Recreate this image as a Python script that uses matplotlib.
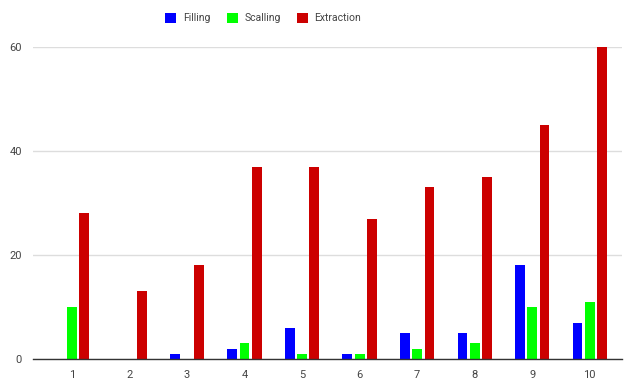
import matplotlib
matplotlib.use("Agg")
import matplotlib.pyplot as plt
import numpy as np

categories = ["1", "2", "3", "4", "5", "6", "7", "8", "9", "10"]
filling = [0, 0, 1, 2, 6, 1, 5, 5, 18, 7]
scalling = [10, 0, 0, 3, 1, 1, 2, 3, 10, 11]
extraction = [28, 13, 18, 37, 37, 27, 33, 35, 45, 60]
yticks = [0, 20, 40, 60]

series = [("Filling", filling, "#0000ff"),
          ("Scalling", scalling, "#00ff00"),
          ("Extraction", extraction, "#cc0000")]

plt.rcParams["font.family"] = ["Roboto", "DejaVu Sans"]

fig = plt.figure(figsize=(6.24, 3.83), dpi=100)
ax = fig.add_axes([33 / 624, 1 - 359 / 383, (622 - 33) / 624, (359 - 47) / 383])

x = np.arange(1, len(categories) + 1)
width = 0.17
step = 0.213
handles = []
for i, (name, vals, color) in enumerate(series):
    b = ax.bar(x + (i - 1) * step, vals, width, color=color, label=name,
               zorder=3, clip_on=False, linewidth=0)
    handles.append(b)

ax.set_xlim(0.323, 10.56)
ax.set_ylim(0, 60)
ax.set_yticks(yticks)
ax.set_xticks(x)
ax.set_xticklabels(categories)
ax.grid(axis="y", color="#dddddd", linewidth=1, zorder=0)
for s in ["top", "right", "left"]:
    ax.spines[s].set_visible(False)
ax.spines["bottom"].set_color("#333333")
ax.spines["bottom"].set_linewidth(1)
ax.spines["bottom"].set_zorder(4)
ax.tick_params(axis="both", length=0, labelsize=8, colors="#444444")
ax.tick_params(axis="x", pad=8)
ax.tick_params(axis="y", pad=8)

fig.legend(handles=handles, loc="center", bbox_to_anchor=(0.422, 1 - 18 / 383),
           ncol=3, frameon=False, fontsize=7.5, handlelength=1.05, handleheight=1.1,
           handletextpad=0.65, columnspacing=1.55, labelcolor="#444444")

fig.savefig("out.png", dpi=100)
